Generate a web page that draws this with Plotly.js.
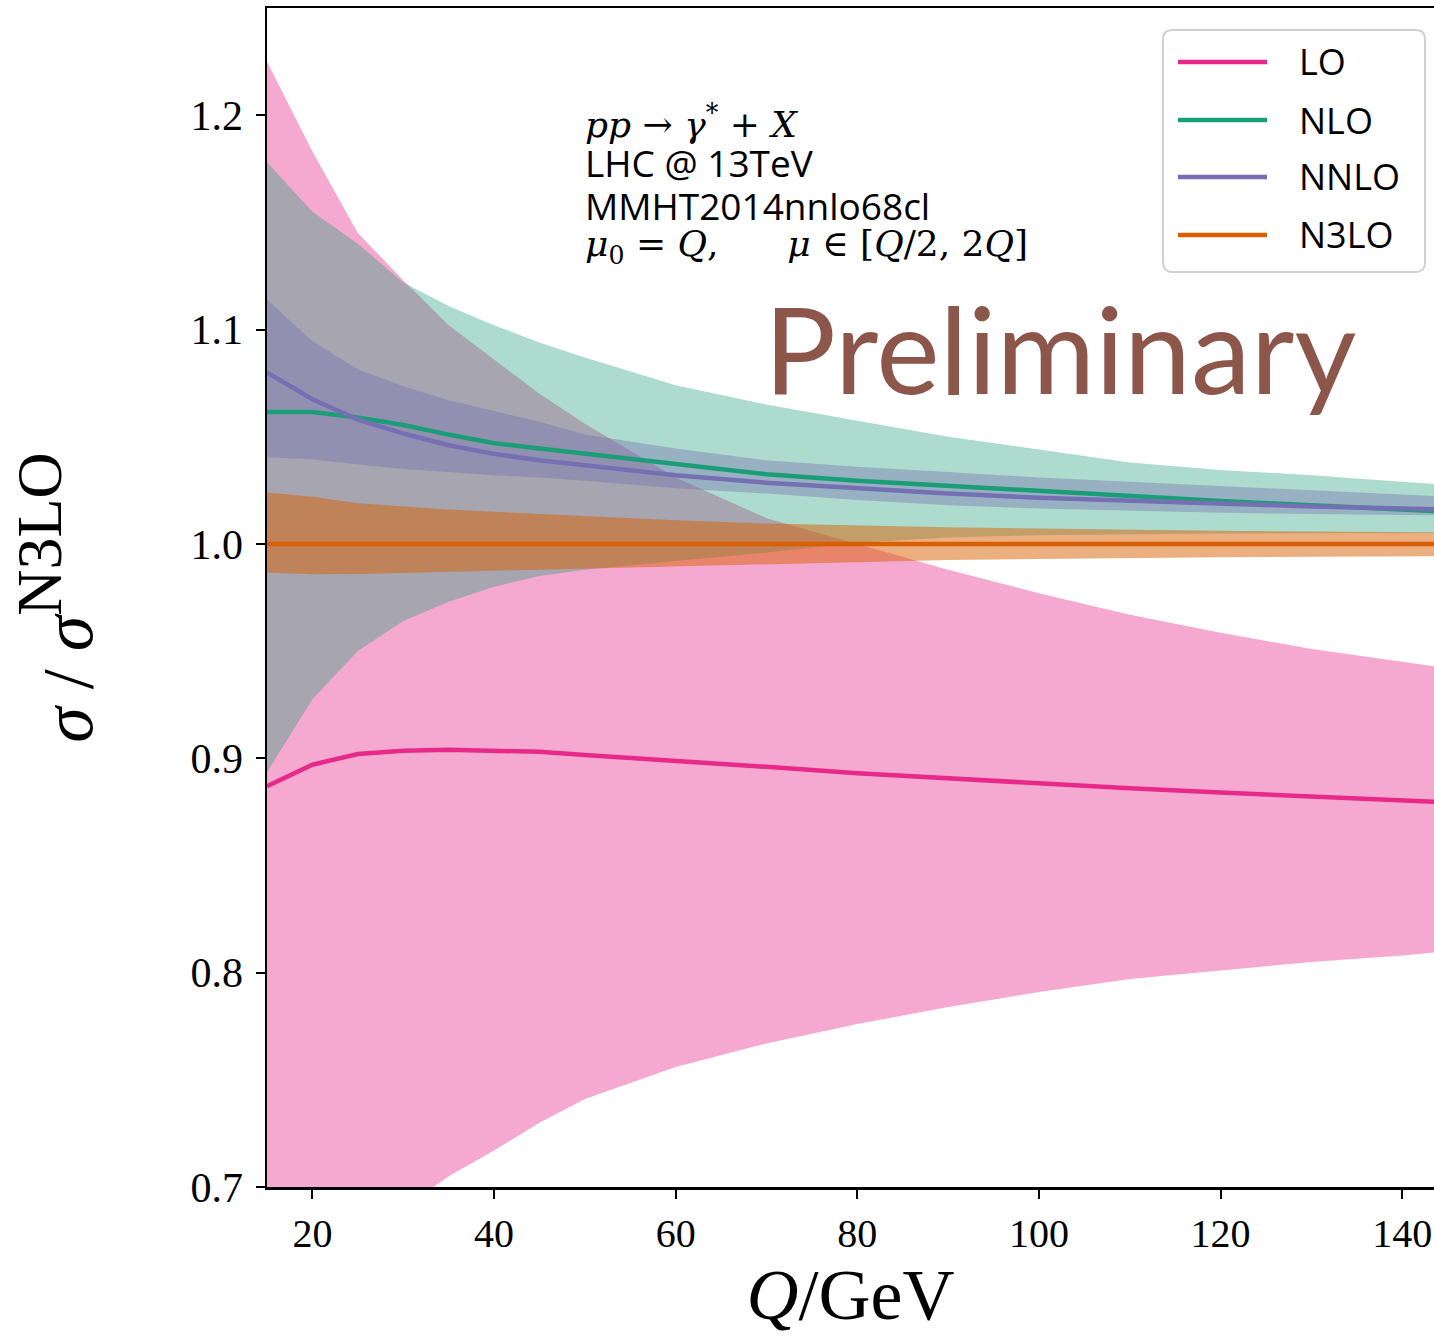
<!DOCTYPE html>
<html>
<head>
<meta charset="utf-8">
<script src="https://cdn.plot.ly/plotly-3.0.1.min.js"></script>
<style>html,body{margin:0;padding:0;background:#fff;}#chart{width:1434px;height:1336px;}</style>
</head>
<body>
<div id="chart"></div>
<script>
// Q / GeV sample points
const Q = [15, 20, 25, 30, 35, 40, 45, 50, 60, 70, 80, 90, 100, 110, 120, 130, 140, 145];

// LO
const LO_central = [0.887, 0.897, 0.902, 0.9035, 0.904, 0.9035, 0.903, 0.9015, 0.899, 0.896, 0.893, 0.8905, 0.8885, 0.886, 0.884, 0.882, 0.8805, 0.8795];
const LO_upper   = [1.225, 1.183, 1.145, 1.123, 1.102, 1.086, 1.070, 1.056, 1.031, 1.012, 1.000, 0.988, 0.977, 0.967, 0.9585, 0.951, 0.945, 0.942];
const LO_lower   = [0.620, 0.655, 0.678, 0.690, 0.705, 0.717, 0.730, 0.741, 0.756, 0.767, 0.776, 0.784, 0.791, 0.797, 0.801, 0.805, 0.808, 0.810];

// NLO
const NLO_central = [1.0615, 1.0615, 1.059, 1.0555, 1.051, 1.047, 1.0445, 1.042, 1.037, 1.0325, 1.0295, 1.027, 1.025, 1.0225, 1.020, 1.018, 1.016, 1.015];
const NLO_upper   = [1.178, 1.155, 1.140, 1.122, 1.111, 1.102, 1.094, 1.087, 1.074, 1.065, 1.0575, 1.050, 1.044, 1.038, 1.0345, 1.032, 1.029, 1.0275];
const NLO_lower   = [0.8935, 0.9275, 0.950, 0.964, 0.973, 0.980, 0.985, 0.988, 0.992, 0.996, 1.0005, 1.003, 1.004, 1.0045, 1.0048, 1.005, 1.005, 1.005];

// NNLO
const NNLO_central = [1.080, 1.0675, 1.058, 1.0515, 1.046, 1.042, 1.039, 1.0365, 1.032, 1.0285, 1.0258, 1.0235, 1.0215, 1.020, 1.0185, 1.0175, 1.0165, 1.016];
const NNLO_upper   = [1.114, 1.0945, 1.0815, 1.0736, 1.067, 1.062, 1.057, 1.051, 1.0445, 1.039, 1.036, 1.0335, 1.031, 1.029, 1.027, 1.025, 1.023, 1.022];
const NNLO_lower   = [1.0404, 1.0395, 1.037, 1.035, 1.0335, 1.032, 1.031, 1.0295, 1.026, 1.0235, 1.0205, 1.018, 1.0165, 1.0155, 1.0145, 1.014, 1.0135, 1.0133];

// N3LO
const N3LO_central = [1, 1, 1, 1, 1, 1, 1, 1, 1, 1, 1, 1, 1, 1, 1, 1, 1, 1];
const N3LO_upper   = [1.024, 1.022, 1.019, 1.0175, 1.016, 1.015, 1.014, 1.013, 1.011, 1.0095, 1.0085, 1.0078, 1.0072, 1.0066, 1.0061, 1.0058, 1.0055, 1.0054];
const N3LO_lower   = [0.9867, 0.9858, 0.986, 0.9865, 0.987, 0.9875, 0.988, 0.9888, 0.9897, 0.9905, 0.9915, 0.9925, 0.993, 0.9935, 0.9938, 0.994, 0.9942, 0.9943];

const orders = ['LO', 'NLO', 'NNLO', 'N3LO'];
const colors = {LO: '#e7298a', NLO: '#1b9e77', NNLO: '#7570b3', N3LO: '#d95f02'};
const fills  = {LO: 'rgba(231,41,138,0.4)', NLO: 'rgba(27,158,119,0.36)', NNLO: 'rgba(117,112,179,0.4)', N3LO: 'rgba(217,95,2,0.5)'};
const data = {
  LO:   {c: LO_central,   u: LO_upper,   l: LO_lower},
  NLO:  {c: NLO_central,  u: NLO_upper,  l: NLO_lower},
  NNLO: {c: NNLO_central, u: NNLO_upper, l: NNLO_lower},
  N3LO: {c: N3LO_central, u: N3LO_upper, l: N3LO_lower}
};

const traces = [];
orders.forEach(o => {
  traces.push({x: Q, y: data[o].l, type: 'scatter', mode: 'lines', line: {width: 0, color: fills[o]}, showlegend: false, hoverinfo: 'skip'});
  traces.push({x: Q, y: data[o].u, type: 'scatter', mode: 'lines', line: {width: 0, color: fills[o]}, fill: 'tonexty', fillcolor: fills[o], showlegend: false, hoverinfo: 'skip'});
});
orders.forEach(o => {
  traces.push({x: Q, y: data[o].c, type: 'scatter', mode: 'lines', name: o, line: {width: 4.5, color: colors[o]}, showlegend: false});
});

// manual legend (paper coordinates)
const legX0 = 0.7678, legX1 = 0.9923, legY0 = 0.7761, legY1 = 0.9813;
const r = 0.008, ry = 0.008;
const legendPath = `M ${legX0 + r},${legY1} L ${legX1 - r},${legY1} Q ${legX1},${legY1} ${legX1},${legY1 - ry} L ${legX1},${legY0 + ry} Q ${legX1},${legY0} ${legX1 - r},${legY0} L ${legX0 + r},${legY0} Q ${legX0},${legY0} ${legX0},${legY0 + ry} L ${legX0},${legY1 - ry} Q ${legX0},${legY1} ${legX0 + r},${legY1} Z`;
const rowsY = [0.9542, 0.9050, 0.8567, 0.8075];

const shapes = [{type: 'path', xref: 'paper', yref: 'paper', path: legendPath, line: {color: '#d0d0d0', width: 2}, fillcolor: 'rgba(255,255,255,0.85)', layer: 'above'}];
const annotations = [];
orders.forEach((o, i) => {
  shapes.push({type: 'line', xref: 'paper', yref: 'paper', x0: 0.7806, x1: 0.8569, y0: rowsY[i], y1: rowsY[i], line: {color: colors[o], width: 4.5}, layer: 'above'});
  annotations.push({xref: 'paper', yref: 'paper', x: 0.8826, y: rowsY[i], xanchor: 'left', yanchor: 'middle', text: o, showarrow: false, font: {family: 'Open Sans, sans-serif', size: 36, color: '#000'}});
});

const infoLines = [
  {t: '<i>pp</i> → <i>γ</i><sup>*</sup> + <i>X</i>', y: 0.9033, f: 'DejaVu Serif, serif', s: 36},
  {t: 'LHC @ 13TeV', y: 0.8686, f: 'Open Sans, sans-serif', s: 37},
  {t: 'MMHT2014nnlo68cl', y: 0.8329, f: 'Open Sans, sans-serif', s: 37},
  {t: '<i>μ</i><sub>0</sub> = <i>Q</i>,      <i>μ</i> ∈ [<i>Q</i>/2, 2<i>Q</i>]', y: 0.7973, f: 'DejaVu Serif, serif', s: 36}
];
infoLines.forEach(l => {
  annotations.push({xref: 'paper', yref: 'paper', x: 0.2708, y: l.y, xanchor: 'left', yanchor: 'middle', text: l.t, showarrow: false, font: {family: l.f, size: l.s, color: '#000'}});
});
annotations.push({xref: 'paper', yref: 'paper', x: 0.6795, y: 0.712, xanchor: 'center', yanchor: 'middle', text: 'Preliminary', showarrow: false, font: {family: 'Lato, sans-serif', size: 120, color: '#8c564b'}});

const layout = {
  width: 1434, height: 1336,
  margin: {l: 267, r: 0, t: 8, b: 149},
  paper_bgcolor: '#fff', plot_bgcolor: '#fff',
  showlegend: false,
  xaxis: {
    range: [15, 143.5], tickvals: [20, 40, 60, 80, 100, 120, 140], ticktext: ['20', '40', '60', '80', '100', '120', '140'],
    ticks: 'outside', ticklen: 9, tickwidth: 2, tickcolor: '#000',
    showline: true, linecolor: '#000', linewidth: 2.5, mirror: true,
    showgrid: false, zeroline: false,
    tickfont: {family: 'Liberation Serif, serif', size: 40, color: '#000'},
    ticklabelstandoff: 0,
    title: {text: '<i>Q</i>/GeV', font: {family: 'Liberation Serif, serif', size: 72, color: '#000'}, standoff: 10}
  },
  yaxis: {
    range: [0.7, 1.25], tickvals: [0.7, 0.8, 0.9, 1.0, 1.1, 1.2], ticktext: ['0.7', '0.8', '0.9', '1.0', '1.1', '1.2'],
    ticks: 'outside', ticklen: 9, tickwidth: 2, tickcolor: '#000',
    showline: true, linecolor: '#000', linewidth: 2.5, mirror: false,
    showgrid: false, zeroline: false,
    tickfont: {family: 'Liberation Serif, serif', size: 42, color: '#000'},
    ticklabelstandoff: 4,
    title: {text: '<i>σ</i> / <i>σ</i><sup><span style="font-size:64px">N3LO</span></sup>', font: {family: 'Liberation Serif, serif', size: 72, color: '#000'}, standoff: 75}
  },
  shapes: shapes,
  annotations: annotations
};

Plotly.newPlot('chart', traces, layout, {displayModeBar: false, staticPlot: true});
</script>
</body>
</html>
